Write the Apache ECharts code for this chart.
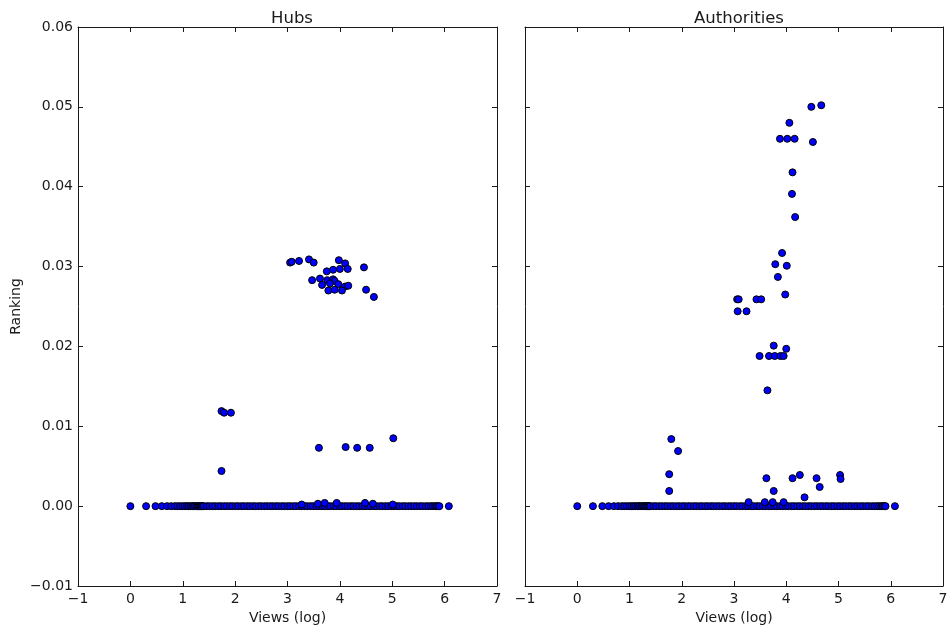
<!DOCTYPE html>
<html>
<head>
<meta charset="utf-8">
<script src="https://cdn.jsdelivr.net/npm/echarts@6/dist/echarts.min.js"></script>
<style>html,body{margin:0;padding:0;background:#fff;}#c{width:951px;height:630px;}</style>
</head>
<body>
<div id="c"></div>
<script>
// Baseline items (ranking 0) — x = log10(views)
var baselineViews = [0, 0.30, 0.48, 0.60, 0.70, 0.78, 0.85, 0.90, 0.95, 1.00, 1.04, 1.08, 1.11, 1.15, 1.18, 1.20, 1.23, 1.26, 1.28, 1.30, 1.32, 1.34, 1.36, 1.38, 1.40, 1.46, 1.51, 1.57, 1.62, 1.68, 1.73, 1.79, 1.84, 1.90, 1.95, 2.01, 2.06, 2.12, 2.17, 2.23, 2.28, 2.34, 2.39, 2.45, 2.50, 2.56, 2.61, 2.67, 2.72, 2.78, 2.83, 2.89, 2.94, 3.00, 3.05, 3.11, 3.16, 3.22, 3.27, 3.33, 3.38, 3.44, 3.49, 3.55, 3.60, 3.66, 3.71, 3.77, 3.82, 3.88, 3.93, 3.99, 4.04, 4.10, 4.15, 4.21, 4.26, 4.32, 4.37, 4.43, 4.48, 4.54, 4.59, 4.65, 4.70, 4.76, 4.81, 4.87, 4.92, 4.98, 5.03, 5.09, 5.14, 5.20, 5.25, 5.31, 5.36, 5.42, 5.47, 5.53, 5.58, 5.64, 5.69, 5.74, 5.78, 5.82, 5.85, 5.88, 5.90, 6.08];

// Hubs (non-zero rankings)
var hubsViews   = [3.05, 3.08, 3.22, 3.41, 3.50, 3.98, 4.10, 4.00, 4.15, 3.87, 3.75, 4.46, 3.47, 3.62, 3.76, 3.87, 3.90, 3.66, 3.81, 3.97, 4.10, 4.16, 3.78, 3.90, 4.04, 4.50, 4.65,
                   1.74, 1.79, 1.92, 1.74, 3.60, 4.11, 4.33, 4.57, 5.02,
                   3.27, 3.58, 3.71, 3.94, 4.48, 4.63, 5.01];
var hubsRanking = [0.0305, 0.0306, 0.0307, 0.0309, 0.0305, 0.0308, 0.0304, 0.0297, 0.0297, 0.0296, 0.0294, 0.0299, 0.0283, 0.0285, 0.0283, 0.0284, 0.0282, 0.0277, 0.0279, 0.0278, 0.0275, 0.0276, 0.0270, 0.0271, 0.0270, 0.0271, 0.0262,
                   0.0119, 0.0117, 0.0117, 0.0044, 0.0073, 0.0074, 0.0073, 0.0073, 0.0085,
                   0.0002, 0.0003, 0.0004, 0.0004, 0.0004, 0.0003, 0.0002];

// Authorities (non-zero rankings)
var authViews   = [4.48, 4.67, 4.06, 3.88, 4.02, 4.16, 4.51, 4.12, 4.11, 4.17,
                   3.92, 3.79, 4.01, 3.84, 3.98, 3.06, 3.09, 3.43, 3.52, 3.07, 3.24,
                   3.76, 4.00, 3.49, 3.67, 3.78, 3.89, 3.95, 3.64,
                   1.80, 1.93, 1.76, 1.76, 3.28, 3.62, 3.59, 3.74, 3.76, 3.95, 4.12, 4.26, 4.35, 4.58, 4.64, 5.03, 5.04];
var authRanking = [0.0500, 0.0502, 0.0480, 0.0460, 0.0460, 0.0460, 0.0456, 0.0418, 0.0391, 0.0362,
                   0.0317, 0.0303, 0.0301, 0.0287, 0.0265, 0.0259, 0.0259, 0.0259, 0.0259, 0.0244, 0.0244,
                   0.0201, 0.0197, 0.0188, 0.0188, 0.0188, 0.0188, 0.0188, 0.0145,
                   0.0084, 0.0069, 0.0040, 0.0019, 0.0005, 0.0035, 0.0005, 0.0005, 0.0019, 0.0005, 0.0035, 0.0039, 0.0011, 0.0035, 0.0024, 0.0039, 0.0034];

var xTicks = [-1, 0, 1, 2, 3, 4, 5, 6, 7];
var yTicks = [-0.01, 0.00, 0.01, 0.02, 0.03, 0.04, 0.05, 0.06];

function pairs(xs, ys) { return xs.map(function (x, i) { return [x, ys[i]]; }); }
function zeros(xs) { return xs.map(function (x) { return [x, 0]; }); }

var FONT = 'DejaVu Sans';
var lineStyle = { color: '#1a1a1a', width: 1 };
var tickStyle = { show: true, inside: true, length: 5, lineStyle: { color: '#1a1a1a', width: 1 } };

function xAx(grid, pos, labels) {
  return {
    type: 'value', gridIndex: grid, position: pos,
    min: xTicks[0], max: xTicks[xTicks.length - 1], interval: 1,
    axisLine: { show: true, onZero: false, lineStyle: lineStyle },
    axisTick: tickStyle,
    splitLine: { show: false },
    axisLabel: labels ? { show: true, margin: 6, color: '#1a1a1a', fontFamily: FONT, fontSize: 14,
      formatter: function (v) { return String(v).replace('-', '\u2212'); } } : { show: false },
    name: labels ? 'Views (log)' : '', nameLocation: 'middle', nameGap: 23,
    nameTextStyle: { color: '#1a1a1a', fontFamily: FONT, fontSize: 14 }
  };
}
function yAx(grid, pos, labels, name) {
  return {
    type: 'value', gridIndex: grid, position: pos,
    min: yTicks[0], max: yTicks[yTicks.length - 1], interval: 0.01,
    axisLine: { show: true, onZero: false, lineStyle: lineStyle },
    axisTick: tickStyle,
    splitLine: { show: false },
    axisLabel: labels ? { show: true, margin: 5, color: '#1a1a1a', fontFamily: FONT, fontSize: 14,
      formatter: function (v) { return v.toFixed(2).replace('-', '\u2212'); } } : { show: false },
    name: name || '', nameLocation: 'middle', nameGap: 55,
    nameTextStyle: { color: '#1a1a1a', fontFamily: FONT, fontSize: 14 }
  };
}

var markerStyle = { color: '#0000ff', borderColor: '#000000', borderWidth: 1, opacity: 1 };

var option = {
  animation: false,
  backgroundColor: '#ffffff',
  title: [
    { text: 'Hubs', left: 287, top: 5, textAlign: 'center',
      textStyle: { fontFamily: FONT, fontSize: 16.5, fontWeight: 'normal', color: '#1a1a1a' } },
    { text: 'Authorities', left: 734, top: 5, textAlign: 'center',
      textStyle: { fontFamily: FONT, fontSize: 16.5, fontWeight: 'normal', color: '#1a1a1a' } }
  ],
  grid: [
    { left: 78, top: 27, width: 419, height: 559 },
    { left: 525, top: 27, width: 418, height: 559 }
  ],
  xAxis: [xAx(0, 'bottom', true), xAx(0, 'top', false), xAx(1, 'bottom', true), xAx(1, 'top', false)],
  yAxis: [yAx(0, 'left', true, 'Ranking'), yAx(0, 'right', false), yAx(1, 'left', false), yAx(1, 'right', false)],
  series: [
    { type: 'scatter', xAxisIndex: 0, yAxisIndex: 0, symbolSize: 7, itemStyle: markerStyle, data: zeros(baselineViews) },
    { type: 'scatter', xAxisIndex: 0, yAxisIndex: 0, symbolSize: 7, itemStyle: markerStyle, data: pairs(hubsViews, hubsRanking) },
    { type: 'scatter', xAxisIndex: 2, yAxisIndex: 2, symbolSize: 7, itemStyle: markerStyle, data: zeros(baselineViews) },
    { type: 'scatter', xAxisIndex: 2, yAxisIndex: 2, symbolSize: 7, itemStyle: markerStyle, data: pairs(authViews, authRanking) }
  ]
};

var chart = echarts.init(document.getElementById('c'), null, { renderer: 'canvas' });
chart.setOption(option);
</script>
</body>
</html>
